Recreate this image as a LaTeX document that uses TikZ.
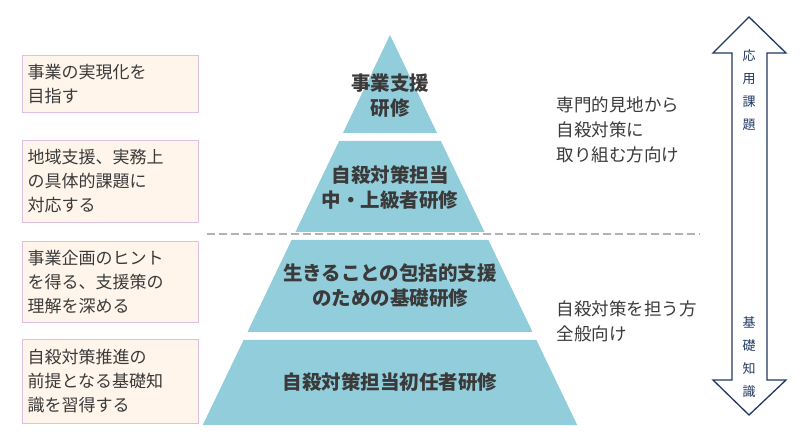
\documentclass[tikz,border=0pt]{standalone}
\usepackage{fontspec}
\setmainfont{Noto Sans CJK JP}
\usetikzlibrary{calc}
\definecolor{pyr}{HTML}{92CDDC}
\definecolor{txt}{HTML}{3A3A3A}
\definecolor{navy}{HTML}{1F3864}
\tikzset{
 lvl/.style={fill=pyr,draw=none},
 ptext/.style={font=\fontsize{19.5}{25}\selectfont\bfseries,text=txt,align=center},
 lbox/.style={draw=violet!25,fill=orange!8,line width=1pt,minimum width=176pt,text width=166pt,align=left,font=\fontsize{17}{24}\selectfont,text=txt,inner sep=5pt,anchor=north west},
 rtext/.style={font=\fontsize{17.5}{25}\selectfont,text=txt,align=left,anchor=west},
 atext/.style={font=\fontsize{13}{23}\selectfont,text=navy,align=center}
}
\begin{document}
\begin{tikzpicture}[x=1pt,y=-1pt]
\useasboundingbox (0,0) rectangle (800,443);
\fill[lvl] (390,35) -- ({390+0.48*98},133) -- ({390-0.48*98},133) -- cycle;
\foreach \a/\b in {141/232,240/332,340/425}{
 \fill[lvl] ({390-0.48*(\a-35)},\a) -- ({390+0.48*(\a-35)},\a) -- ({390+0.48*(\b-35)},\b) -- ({390-0.48*(\b-35)},\b) -- cycle;}
\draw[gray!60,line width=2pt,dash pattern=on 8pt off 4pt] (207,234) -- (700,234);
\node[ptext] (p1) at (390,96) {事業支援\\研修};
\node[ptext] (p2) at (390,188) {自殺対策担当\\中・上級者研修};
\node[ptext] (p3) at (390,286) {生きることの包括的支援\\のための基礎研修};
\node[ptext] (p4) at (390,382) {自殺対策担当初任者研修};
\node[lbox,minimum height=57pt] (b1) at (22,55) {事業の実現化を\\目指す};
\node[lbox,minimum height=82pt] (b2) at (22,140) {地域支援、実務上\\の具体的課題に\\対応する};
\node[lbox,minimum height=81pt] (b3) at (22,241) {事業企画のヒント\\を得る、支援策の\\理解を深める};
\node[lbox,minimum height=84pt] (b4) at (22,339) {自殺対策推進の\\前提となる基礎知\\識を習得する};
\node[rtext] (r1) at (553,130) {専門的見地から\\自殺対策に\\取り組む方向け};
\node[rtext] (r2) at (553,321) {自殺対策を担う方\\全般向け};
\draw[navy,line width=1.3pt,fill=white,line join=miter] (749,17) -- (786,53) -- (767,53) -- (767,380) -- (786,380) -- (749,415) -- (713,380) -- (732,380) -- (732,53) -- (713,53) -- cycle;
\node[atext] (a1) at (749,90) {応\\用\\課\\題};
\node[atext] (a2) at (749,357) {基\\礎\\知\\識};
\end{tikzpicture}
\end{document}
